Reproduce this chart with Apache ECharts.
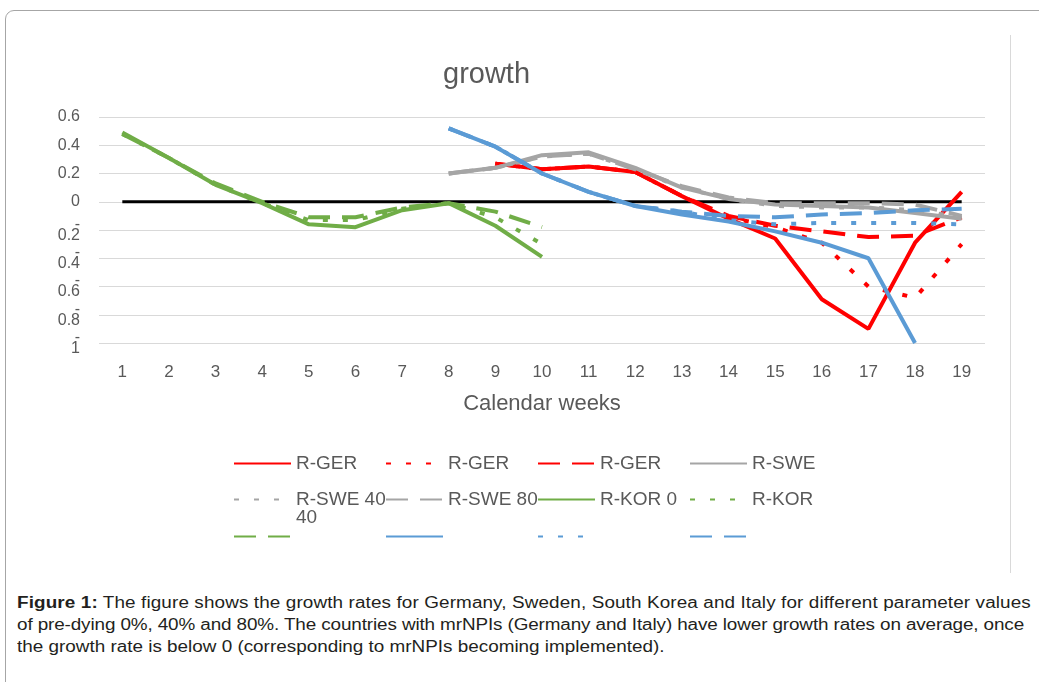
<!DOCTYPE html>
<html>
<head>
<meta charset="utf-8">
<script src="https://cdn.jsdelivr.net/npm/echarts@6/dist/echarts.min.js"></script>
<style>
html, body { margin: 0; padding: 0; background: #fff; }
body { width: 1039px; height: 682px; position: relative; overflow: hidden; font-family: "Liberation Sans", Arial, sans-serif; }
#frame { position: absolute; left: 5px; top: 10px; width: 1080px; height: 720px; border: 1px solid #a6a6a6; border-radius: 9px; }
#box { position: absolute; left: 35px; top: 35px; width: 975px; height: 537px; border-top: 1px solid #d9d9d9; border-right: 1px solid #d9d9d9; }
#myEchartNode { position: absolute; left: 35px; top: 35px; width: 975px; height: 525px; }
#caption { position: absolute; left: 17px; top: 592px; font-size: 16px; line-height: 22px; color: #231f20; white-space: nowrap; transform: scaleX(1.18); transform-origin: 0 0; }
#caption div { height: 22px; }
</style>
</head>
<body>
<div id="frame"></div>
<div id="box"></div>
<div id="myEchartNode"></div>
<div id="caption">
<div style="letter-spacing:0.1px"><b>Figure 1:</b> The figure shows the growth rates for Germany, Sweden, South Korea and Italy for different parameter values</div>
<div style="letter-spacing:-0.1px">of pre-dying 0%, 40% and 80%. The countries with mrNPIs (Germany and Italy) have lower growth rates on average, once</div>
<div>the growth rate is below 0 (corresponding to mrNPIs becoming implemented).</div>
</div>
<script>
; (function () {

    var weeks = ['1', '2', '3', '4', '5', '6', '7', '8', '9', '10', '11', '12', '13', '14', '15', '16', '17', '18', '19'];
    var yTicks = [-1, 0.6, 0.2]; // min, max, step

    // black reference line at 0
    var zeroLine = [0, 0, 0, 0, 0, 0, 0, 0, 0, 0, 0, 0, 0, 0, 0, 0, 0, 0, 0];

    // Germany (pre-dying 0% / 40% / 80%)
    var gerSolid  = [null, null, null, null, null, null, null, null, 0.27, 0.23, 0.25, 0.21, 0.04, -0.12, -0.26, -0.69, -0.90, -0.29, 0.07];
    var gerDotted = [null, null, null, null, null, null, null, null, 0.27, 0.23, 0.25, 0.21, 0.04, -0.11, -0.18, -0.29, -0.60, -0.68, -0.30];
    var gerDashed = [null, null, null, null, null, null, null, null, 0.27, 0.23, 0.25, 0.21, 0.04, -0.10, -0.17, -0.21, -0.25, -0.24, -0.11];

    // Sweden
    var sweSolid  = [null, null, null, null, null, null, null, 0.20, 0.24, 0.33, 0.35, 0.24, 0.10, 0.02, -0.02, -0.03, -0.04, -0.08, -0.12];
    var sweDotted = [null, null, null, null, null, null, null, 0.20, 0.24, 0.32, 0.34, 0.23, 0.10, 0.02, -0.03, -0.04, -0.04, -0.06, -0.11];
    var sweDashed = [null, null, null, null, null, null, null, 0.20, 0.24, 0.32, 0.34, 0.23, 0.11, 0.03, -0.01, -0.01, -0.01, -0.02, -0.10];

    // South Korea
    var korSolid  = [0.49, 0.31, 0.12, -0.01, -0.16, -0.18, -0.06, -0.01, -0.17, -0.39, null, null, null, null, null, null, null, null, null];
    var korDotted = [0.48, 0.31, 0.12, -0.01, -0.13, -0.13, -0.05, -0.01, -0.11, -0.30, null, null, null, null, null, null, null, null, null];
    var korDashed = [0.48, 0.31, 0.13, 0.00, -0.11, -0.11, -0.04, -0.01, -0.07, -0.18, null, null, null, null, null, null, null, null, null];

    // Italy
    var itaSolid  = [null, null, null, null, null, null, null, 0.52, 0.39, 0.20, 0.07, -0.03, -0.09, -0.14, -0.21, -0.29, -0.40, -1.00, null];
    var itaDotted = [null, null, null, null, null, null, null, 0.52, 0.39, 0.20, 0.07, -0.03, -0.07, -0.13, -0.16, -0.15, -0.15, -0.15, -0.16];
    var itaDashed = [null, null, null, null, null, null, null, 0.52, 0.39, 0.20, 0.07, -0.03, -0.07, -0.10, -0.11, -0.09, -0.08, -0.06, -0.05];

    var seriesNames = ['R-GER 0', 'R-GER 40', 'R-GER 80', 'R-SWE 0', 'R-SWE 40', 'R-SWE 80',
                       'R-KOR 0', 'R-KOR 40', 'R-KOR 80', 'R-ITA 0', 'R-ITA 40', 'R-ITA 80'];
    // what the legend actually shows
    var legendText = ['R-GER', 'R-GER', 'R-GER', 'R-SWE', 'R-SWE 40', 'R-SWE 80',
                      'R-KOR 0', 'R-KOR', '', '', '', ''];

    var DOT = [5, 15];
    var DASH = [22, 12];

    function line(name, data, color, type) {
        return {
            name: name,
            type: 'line',
            data: data,
            symbol: 'none',
            connectNulls: false,
            lineStyle: { color: color, width: 4, type: type || 'solid', cap: 'butt' },
            itemStyle: { color: color }
        };
    }

    // one legend per item so every cell sits on a fixed 152px grid, 4 per row
    var legends = seriesNames.map(function (name, i) {
        return {
            data: [name],
            left: 198 + (i % 4) * 152,
            top: [419, 455, 492][Math.floor(i / 4)],
            padding: 0,
            itemWidth: 57,
            itemHeight: 14,
            selectedMode: false,
            itemStyle: { opacity: 0 },   // hide the marker, keep the line
            textStyle: { color: '#595959', fontSize: 19 },
            formatter: function () {
                return legendText[i] || '\u00a0';
            }
        };
    });

    var myEchartObj = echarts.init(document.getElementById('myEchartNode'));
    var option = {
        backgroundColor: '#fff',
        animation: false,
        title: {
            text: 'growth',
            left: 403,
            top: 20,
            textStyle: {
                color: '#595959',
                fontSize: 29,
                fontWeight: 'normal'
            }
        },
        legend: legends,
        graphic: [{
            type: 'text',
            left: 261,
            top: 473,
            style: { text: '40', fontSize: 19, fill: '#595959' }
        }],
        grid: {
            top: 82,
            left: 64,
            right: 25,
            bottom: 217,
            containLabel: false
        },
        xAxis: {
            type: 'category',
            data: weeks,
            boundaryGap: true,
            name: 'Calendar weeks',
            nameLocation: 'middle',
            nameGap: 50,
            nameTextStyle: { color: '#595959', fontSize: 22 },
            axisLabel: {
                color: '#595959',
                fontSize: 17,
                margin: 21,
                interval: 0
            },
            axisTick: { show: false },
            axisLine: { show: false },
            splitLine: { show: false }
        },
        yAxis: {
            type: 'value',
            min: yTicks[0],
            max: yTicks[1],
            interval: yTicks[2],
            axisLabel: {
                color: '#595959',
                fontSize: 16,
                lineHeight: 11,
                margin: 19,
                showMinLabel: true,
                showMaxLabel: true,
                hideOverlap: false,
                formatter: function (v) {
                    var s = String(Math.round(Math.abs(v) * 10) / 10);
                    return v < 0 ? '-\n' + s : s;
                }
            },
            axisLine: { show: false },
            axisTick: { show: false },
            splitLine: {
                show: true,
                lineStyle: { color: '#d9d9d9', width: 1 }
            }
        },
        series: [
            {
                name: 'zero',
                type: 'line',
                data: zeroLine,
                symbol: 'none',
                lineStyle: { color: '#000', width: 3 }
            },
            line('R-GER 0', gerSolid, '#ff0000'),
            line('R-GER 40', gerDotted, '#ff0000', DOT),
            line('R-GER 80', gerDashed, '#ff0000', DASH),
            line('R-SWE 0', sweSolid, '#a5a5a5'),
            line('R-SWE 40', sweDotted, '#a5a5a5', DOT),
            line('R-SWE 80', sweDashed, '#a5a5a5', DASH),
            line('R-KOR 0', korSolid, '#70ad47'),
            line('R-KOR 40', korDotted, '#70ad47', DOT),
            line('R-KOR 80', korDashed, '#70ad47', DASH),
            line('R-ITA 0', itaSolid, '#5b9bd5'),
            line('R-ITA 40', itaDotted, '#5b9bd5', DOT),
            line('R-ITA 80', itaDashed, '#5b9bd5', DASH)
        ]
    };

    myEchartObj.setOption(option);
})();
</script>
</body>
</html>
